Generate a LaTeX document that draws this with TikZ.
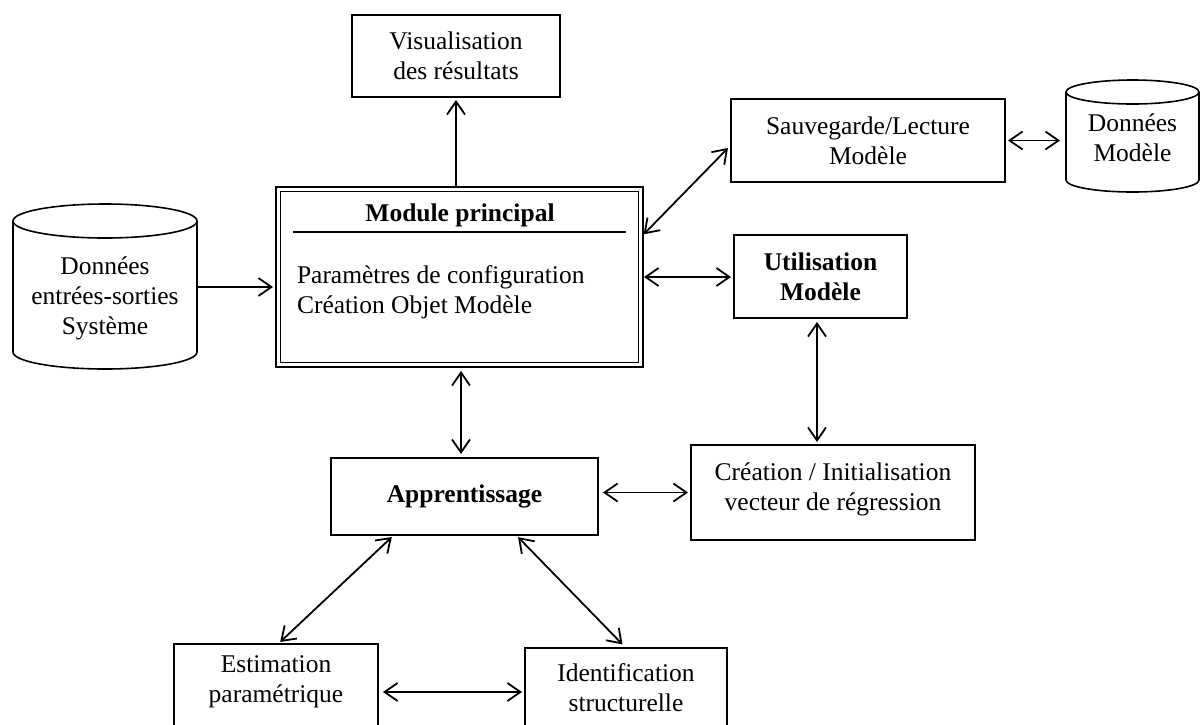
\documentclass[tikz,border=0pt]{standalone}
\usepackage{fontspec}
\setmainfont{Liberation Serif}
\usetikzlibrary{arrows.meta}
\begin{document}
\begin{tikzpicture}[x=1pt,y=-1pt,
  every node/.style={font=\fontsize{25.5}{30}\selectfont, inner sep=0pt, outer sep=0pt, align=center},
  box/.style={draw, line width=1.8pt},
  sarr/.style={line width=1.8pt, -{Straight Barb[length=13pt,width=18pt]}},
  darr/.style={line width=1.8pt, {Straight Barb[length=13pt,width=18pt]}-{Straight Barb[length=13pt,width=18pt]}},
  cyl/.style={line width=1.6pt},
  boldtxt/.style={font=\fontsize{25.5}{30}\selectfont\bfseries}
]
\useasboundingbox (0,0) rectangle (1202,724);
\clip (0,0) rectangle (1202,724);

% Visualisation
\node[box, minimum width=208pt, minimum height=82pt] (vis) at (456,56) {Visualisation\\des résultats};

% Main module
\node[draw, line width=2.2pt, minimum width=367pt, minimum height=180pt] (main) at (459.5,277) {};
\draw[line width=1pt] ([shift={(4.5pt,-4.5pt)}]main.north west) rectangle ([shift={(-4.5pt,4.5pt)}]main.south east);
\node[boldtxt] (mtitle) at (460,215) {Module principal};
\draw[line width=1.8pt] ([shift={(17pt,-45pt)}]main.north west) -- ([shift={(-17pt,-45pt)}]main.north east);
\node[align=left, anchor=west] (mbody) at (297,292) {Paramètres de configuration\\Création Objet Modèle};

% Left cylinder
\draw[cyl] (13,221) -- (13,352) arc[start angle=180, end angle=360, x radius=92pt, y radius=17pt] -- (197,221);
\draw[cyl] (105,221) ellipse [x radius=92pt, y radius=17pt];
\node[minimum width=184pt] (cylL) at (105,298) {Données\\entrées-sorties\\Système};

% Right cylinder
\draw[cyl] (1066,92) -- (1066,180) arc[start angle=180, end angle=360, x radius=66.5pt, y radius=12pt] -- (1199,92);
\draw[cyl] (1132.5,92) ellipse [x radius=66.5pt, y radius=12pt];
\node[minimum width=133pt] (cylR) at (1132.5,138) {Données\\Modèle};

% Other boxes
\node[box, minimum width=274pt, minimum height=83pt] (sauv) at (868,140.5) {Sauvegarde/Lecture\\Modèle};
\node[box, boldtxt, minimum width=173pt, minimum height=83pt] (utl) at (820.5,276.5) {Utilisation\\Modèle};
\node[box, minimum width=284pt, minimum height=95pt] (cre) at (833,492.5) {};
\node (cretxt) at (833,489) {Création / Initialisation\\vecteur de régression};
\node[box, boldtxt, minimum width=267pt, minimum height=77pt] (appr) at (464.5,496.5) {Apprentissage};
\node[box, minimum width=204pt, minimum height=110pt, anchor=north] (est) at (276,644) {};
\node (esttxt) at (276,682) {Estimation\\paramétrique};
\node[box, minimum width=202pt, minimum height=110pt, anchor=north] (idf) at (626,648) {};
\node (idftxt) at (626,688) {Identification\\structurelle};

% Connectors
\draw[sarr, shorten >=3pt] (vis.south |- main.north) -- (vis.south);
\coordinate (m1) at ([yshift=-10pt]main.west);
\draw[sarr, shorten >=3pt] (cylL.east |- m1) -- (m1);
\draw[darr, shorten <=1pt] ([yshift=42pt]main.east) -- ([shift={(-3pt,-7.5pt)}]sauv.west);
\draw[darr, shorten <=3pt, shorten >=6pt] (sauv.east) -- (cylR.west |- sauv.east);
\draw[darr, shorten <=1pt, shorten >=3pt] (main.east) -- (utl.west |- main.east);
\coordinate (u1) at ([xshift=-3.5pt]utl.south);
\draw[darr, shorten <=4pt, shorten >=3pt] (u1) -- (u1 |- cre.north);
\coordinate (m2) at ([xshift=1.5pt]main.south);
\draw[darr, shorten <=4pt, shorten >=4pt] (m2) -- (m2 |- appr.north);
\draw[darr, shorten <=5pt, shorten >=3pt] (appr.east |- cre.west) -- (cre.west);
\draw[darr, shorten <=3pt, shorten >=3pt] ([xshift=63pt]appr.south west) -- ([xshift=2pt]est.north);
\draw[darr, shorten <=3pt, shorten >=5pt] ([xshift=-82pt]appr.south east) -- (idf.north);
\coordinate (e1) at ([yshift=7pt]est.east);
\draw[darr, shorten <=5pt, shorten >=3pt] (e1) -- (idf.west |- e1);
\end{tikzpicture}
\end{document}
